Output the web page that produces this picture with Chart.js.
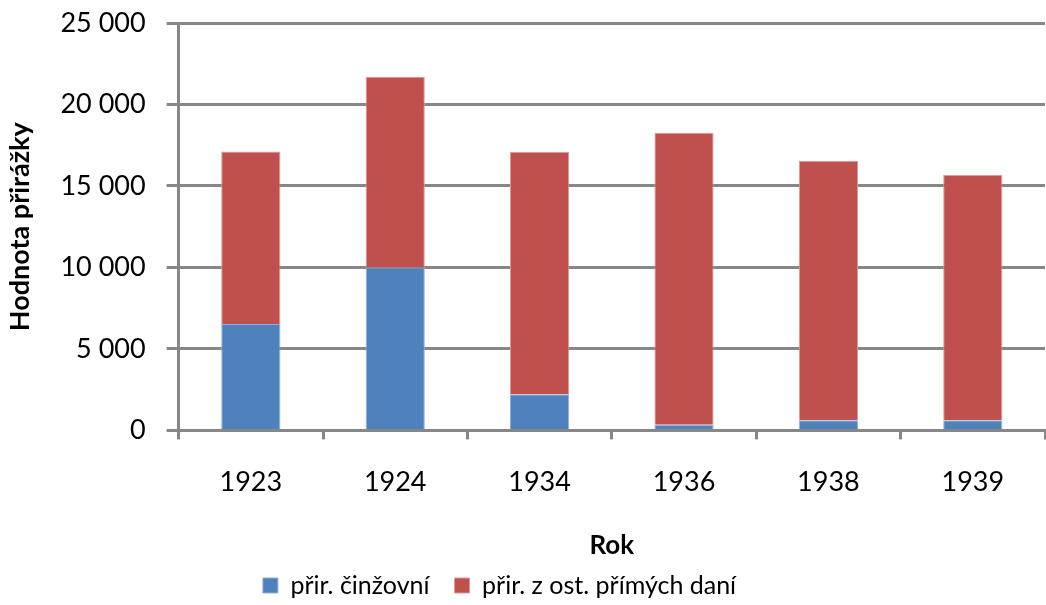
<!DOCTYPE html>
<html>
<head>
<meta charset="utf-8">
<script src="https://cdn.jsdelivr.net/npm/chart.js@4"></script>
<style>
  body { margin: 0; background: #fff; }
  #wrap { width: 1046px; height: 605px; }
</style>
</head>
<body>
<div id="wrap"><canvas id="taxChart" width="1046" height="605"></canvas></div>
<script>
// Data
const years = ["1923", "1924", "1934", "1936", "1938", "1939"];
const cinzovni = [6530, 10000, 2220, 340, 630, 630];
const ostatni = [10590, 11700, 14880, 17930, 15920, 15050];
const yTicks = [0, 5000, 10000, 15000, 20000, 25000];

const gridGray = "#878787";
const font = "Lato, 'Open Sans', sans-serif";

function fmt(v) {
  return String(v).replace(/\B(?=(\d{3})+(?!\d))/g, " ");
}

// legend in the original sits a bit left of the canvas centre
const legendShift = {
  id: "legendShift",
  afterLayout(chart) {
    chart.legend.left -= 25;
    chart.legend.right -= 25;
  }
};

const ctx = document.getElementById("taxChart").getContext("2d");
new Chart(ctx, {
  type: "bar",
  data: {
    labels: years,
    datasets: [
      {
        label: "přir. činžovní",
        data: cinzovni,
        backgroundColor: "#4F81BD",
        borderColor: "#8FB0DA",
        borderWidth: 1,
        borderSkipped: "bottom"
      },
      {
        label: "přir. z ost. přímých daní",
        data: ostatni,
        backgroundColor: "#C0504D",
        borderColor: "#DC9A98",
        borderWidth: 1,
        borderSkipped: "bottom"
      }
    ]
  },
  options: {
    responsive: false,
    animation: false,
    layout: { padding: { left: 4, right: 1, top: 23, bottom: -3 } },
    datasets: { bar: { categoryPercentage: 1, barPercentage: 0.41 } },
    scales: {
      x: {
        stacked: true,
        border: { color: gridGray, width: 3 },
        grid: { display: true, drawOnChartArea: false, color: gridGray, lineWidth: 3, tickLength: 9 },
        ticks: { color: "#000", font: { family: font, size: 27 }, padding: 27 },
        title: { display: true, text: "Rok", color: "#000", font: { family: font, size: 26, weight: "bold" }, padding: { top: 4, bottom: -13 } }
      },
      y: {
        stacked: true,
        min: 0,
        max: 25000,
        afterBuildTicks: (axis) => { axis.ticks = yTicks.map(v => ({ value: v })); },
        afterFit: (axis) => { axis.paddingTop = 0; },
        border: { color: gridGray, width: 3 },
        grid: { color: gridGray, lineWidth: 3, tickLength: 12 },
        ticks: { color: "#000", font: { family: font, size: 27 }, padding: 21, callback: (v) => fmt(v) },
        title: { display: true, text: "Hodnota přirážky", color: "#000", font: { family: font, size: 27, weight: "bold" }, padding: { top: 0, bottom: 3 } }
      }
    },
    plugins: {
      legend: {
        position: "bottom",
        labels: { color: "#000", font: { family: font, size: 25 }, boxWidth: 15, boxHeight: 15, padding: 25 }
      },
      tooltip: { enabled: false }
    }
  },
  plugins: [legendShift]
});
</script>
</body>
</html>
